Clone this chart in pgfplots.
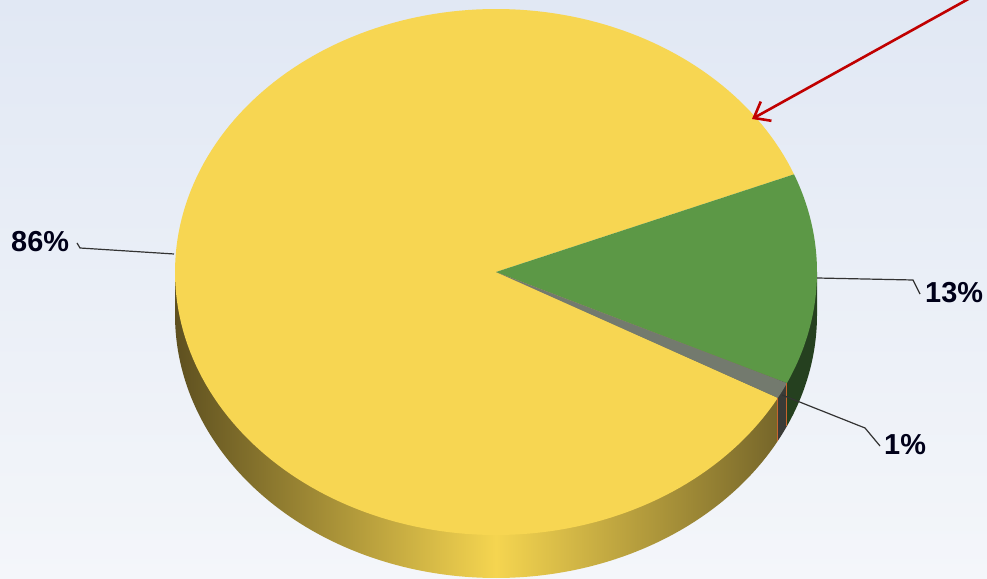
\documentclass[border=0pt]{standalone}
\usepackage{pgfplots}
\usepackage{pgfplotstable}
\pgfplotsset{compat=1.18}
\usetikzlibrary{arrows.meta}
\usepackage{fontspec}
\setmainfont{Liberation Sans}
\definecolor{bgtop}{HTML}{E1E8F4}
\definecolor{bgbot}{HTML}{F4F6FA}
\definecolor{ytop}{HTML}{F7D652}
\definecolor{gtop}{HTML}{5C9846}
\definecolor{stop}{HTML}{737A6E}
\definecolor{ydark}{HTML}{5E5020}
\definecolor{ymid}{HTML}{F5D550}
\definecolor{yright}{HTML}{76662A}
\definecolor{gside}{HTML}{25401F}
\definecolor{sside}{HTML}{3A3B37}
\definecolor{oedge}{HTML}{C8652F}
\definecolor{arrowred}{HTML}{C00000}
\definecolor{leader}{HTML}{333333}
\begin{document}%
\begin{tikzpicture}
\pgfplotstableread{
name pct
Yellow 86
Green 13
Gray 1
}\piedata
\pgfplotstablegetelem{0}{pct}\of\piedata\edef\pA{\pgfplotsretval}
\pgfplotstablegetelem{1}{pct}\of\piedata\edef\pB{\pgfplotsretval}
\pgfplotstablegetelem{2}{pct}\of\piedata\edef\pC{\pgfplotsretval}
\def\cx{496}\def\cy{307}\def\rx{321}\def\ry{263}\def\dep{43}
\pgfmathsetmacro\aBs{-25}
\pgfmathsetmacro\aBe{\aBs+3.6*\pB}
\pgfmathsetmacro\aCs{\aBs-3.6*\pC}
\pgfmathsetmacro\aAs{\aBe}
\pgfmathsetmacro\aAe{\aAs+3.6*\pA}
\pgfmathsetmacro\aCsp{\aCs+360}
\pgfmathsetmacro\aBsp{\aBs+360}
\pgfmathsetmacro\xAe{\cx+\rx*cos(\aAe)}
\pgfmathsetmacro\xBs{\cx+\rx*cos(\aBs)}
\pgfmathsetmacro\ybot{\cy-\dep}
\pgfmathsetmacro\xL{\cx-\rx}
\pgfmathsetmacro\xR{\cx+\rx}
\pgfmathsetmacro\yAe{\cy+\ry*sin(\aAe)}
\pgfmathsetmacro\yBs{\cy+\ry*sin(\aBs)}
\begin{axis}[
  hide axis, scale only axis, width=987bp, height=579bp,
  xmin=0, xmax=987, ymin=0, ymax=579, enlargelimits=false,
]
\fill[top color=bgtop, bottom color=bgbot] (axis cs:0,0) rectangle (axis cs:987,579);
% side walls
\addplot[draw=none, left color=ydark, right color=ymid, domain=180:270, samples=80, variable=\t]
  ({\cx+\rx*cos(t)},{\ybot+\ry*sin(t)}) -- (axis cs:\cx,\cy) -- (axis cs:\xL,\cy) -- cycle;
\addplot[draw=none, left color=ymid, right color=yright, domain=270:\aAe, samples=80, variable=\t]
  ({\cx+\rx*cos(t)},{\ybot+\ry*sin(t)}) -- (axis cs:\xAe,\cy) -- (axis cs:\cx,\cy) -- cycle;
\addplot[draw=none, fill=sside, domain=\aCsp:\aBsp, samples=10, variable=\t]
  ({\cx+\rx*cos(t)},{\ybot+\ry*sin(t)}) -- (axis cs:\xBs,\cy) -- (axis cs:\xAe,\cy) -- cycle;
\addplot[draw=none, fill=gside, domain=\aBsp:360, samples=40, variable=\t]
  ({\cx+\rx*cos(t)},{\ybot+\ry*sin(t)}) -- (axis cs:\xR,\cy) -- (axis cs:\xBs,\cy) -- cycle;
% top face
\addplot[draw=none, fill=ytop, domain=\aAs:\aAe, samples=200, variable=\t]
  ({\cx+\rx*cos(t)},{\cy+\ry*sin(t)}) -- (axis cs:\cx,\cy) -- cycle;
\addplot[draw=none, fill=gtop, domain=\aBs:\aBe, samples=60, variable=\t]
  ({\cx+\rx*cos(t)},{\cy+\ry*sin(t)}) -- (axis cs:\cx,\cy) -- cycle;
\addplot[draw=none, fill=stop, domain=\aCs:\aBs, samples=10, variable=\t]
  ({\cx+\rx*cos(t)},{\cy+\ry*sin(t)}) -- (axis cs:\cx,\cy) -- cycle;
% orange edges on the small slice's wall
\draw[oedge, line width=0.9bp] (axis cs:\xAe,\yAe) -- (axis cs:\xAe,\yAe-\dep);
\draw[oedge, line width=0.9bp] (axis cs:\xBs,\yBs) -- (axis cs:\xBs,\yBs-\dep);
% leader lines
\draw[leader, line width=1.2bp] (axis cs:174,325) -- (axis cs:80,331) -- (axis cs:77,336);
\draw[leader, line width=1.2bp] (axis cs:817,301) -- (axis cs:913,299) -- (axis cs:920,285);
\draw[leader, line width=1.2bp] (axis cs:782,184) -- (axis cs:865,151) -- (axis cs:880,133);
% labels
\node[anchor=base west, inner sep=0pt, font=\fontsize{29}{32}\selectfont\bfseries, text=black!90!blue] at (axis cs:11,327) {86\%};
\node[anchor=base west, inner sep=0pt, font=\fontsize{29}{32}\selectfont\bfseries, text=black!90!blue] at (axis cs:925,276) {13\%};
\node[anchor=base west, inner sep=0pt, font=\fontsize{29}{32}\selectfont\bfseries, text=black!90!blue] at (axis cs:884,124) {1\%};
% red arrow
\draw[arrowred, line width=2.6bp, -{Straight Barb[length=14bp, width=22bp, line width=2.6bp]}] (axis cs:972,582) -- (axis cs:752,460);
\end{axis}
\end{tikzpicture}%
\end{document}
